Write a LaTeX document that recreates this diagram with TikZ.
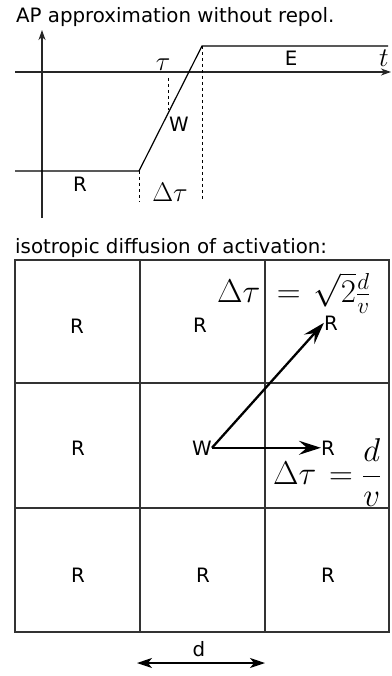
\RequirePackage{fix-cm}
\documentclass[tikz,border=0pt]{standalone}
\usepackage[no-math]{fontspec}
\setmainfont{DejaVu Sans}
\usetikzlibrary{arrows.meta}
\tikzset{
  lbl/.style={font=\fontsize{19.8}{23}\selectfont, inner sep=0pt, anchor=base},
  mth/.style={font=\fontsize{27}{30}\selectfont, inner sep=0pt, anchor=base},
  bigmth/.style={font=\fontsize{33}{36}\selectfont, inner sep=0pt, anchor=base west},
  axis/.style={line width=1.2pt, black!85},
  curve/.style={line width=1.2pt, black},
  guide/.style={line width=0.8pt, black, dash pattern=on 3pt off 3pt},
  gridline/.style={line width=1.1pt, black!80},
  bigarrow/.style={line width=2.3pt, -{Stealth[length=22pt,width=14pt,inset=8pt]}},
  dimarrow/.style={line width=1.2pt, {Stealth[length=15pt,width=10pt,inset=4pt]}-{Stealth[length=15pt,width=10pt,inset=4pt]}}
}
\begin{document}
\begin{tikzpicture}[x=1pt,y=-1pt]
\useasboundingbox (0,0) rectangle (391,676);

% ---------- top: AP approximation ----------
\node[lbl, anchor=base west] (title1) at (16,23) {AP approximation without repol.};

\coordinate (vbot) at (42,218);
\coordinate (vtop) at (42,30);
\coordinate (hl) at (15,72);
\coordinate (hr) at (391,72);
\draw[axis, -{Stealth[length=10pt,width=7pt,inset=3pt]}] (vbot) -- (vtop);
\draw[axis, -{Stealth[length=10pt,width=7pt,inset=3pt]}] (hl) -- (hr);

\coordinate (r0) at (15,171);
\coordinate (r1) at (139,171);
\coordinate (e0) at (202,46);
\coordinate (e1) at (388,46);
\draw[curve] (r0) -- (r1) -- (e0) -- (e1);

\coordinate (d1b) at (139,202);
\coordinate (d2b) at (202,200);
\coordinate (tt) at (168,78);
\coordinate (tb) at (168,110);
\draw[guide] (r1) -- (d1b);
\draw[guide] (e0) -- (d2b);
\draw[guide] (tt) -- (tb);

\node[mth] (tau) at (163,71) {$\tau$};
\node[lbl] (Elab) at (291,66) {E};
\node[mth] (tlab) at (384,67) {$t$};
\node[lbl] (Wtop) at (179,132) {W};
\node[lbl] (Rtop) at (80,192) {R};
\node[mth] (dtau) at (170,201) {$\Delta\tau$};

% ---------- bottom: isotropic diffusion ----------
\node[lbl, anchor=base west] (title2) at (15,253) {isotropic diffusion of activation:};

\draw[gridline] (15,260) rectangle (389,632);
\draw[gridline] (140,260) -- (140,632);
\draw[gridline] (265,260) -- (265,632);
\draw[gridline] (15,383) -- (389,383);
\draw[gridline] (15,508) -- (389,508);

\node[lbl] (Ra) at (77,333) {R};
\node[lbl] (Rb) at (200,332) {R};
\node[lbl] (Rc) at (331,330) {R};
\node[lbl] (Rd) at (78,455) {R};
\node[lbl] (W) at (202,455) {W};
\node[lbl] (Rf) at (328,455) {R};
\node[lbl] (Rg) at (78,582) {R};
\node[lbl] (Rh) at (203,582) {R};
\node[lbl] (Ri) at (328,582) {R};

\node[bigmth] (f1) at (217,302) {$\Delta\tau \mkern4mu= \mkern2mu\sqrt{2}\frac{d}{v}$};
\node[bigmth] (f2) at (273,484) {$\displaystyle\Delta\tau \mkern2mu= \frac{d}{v}$};

\draw[bigarrow] (W.east) -- (Rc.west);
\draw[bigarrow] (W.east) -- (Rf.west);

\coordinate (dl) at (137,663);
\coordinate (dr) at (265,663);
\draw[dimarrow] (dl) -- (dr);
\node[lbl] (dlab) at (199,656) {d};
\end{tikzpicture}
\end{document}
